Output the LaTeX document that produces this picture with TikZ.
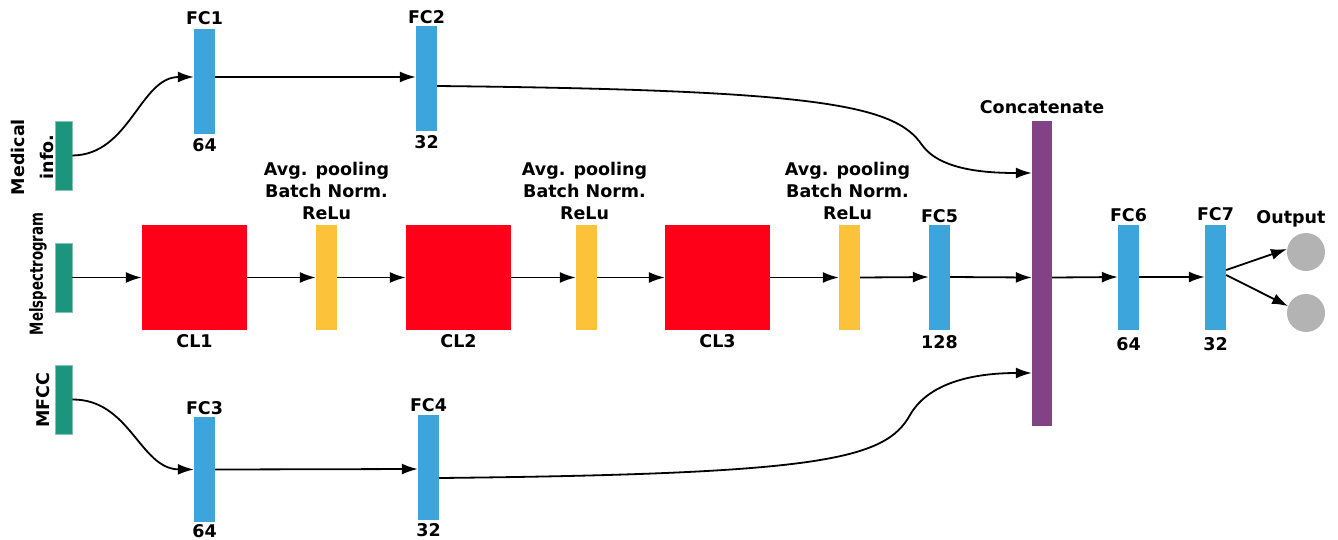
\documentclass[tikz,border=0pt]{standalone}
\usepackage{fontspec}
\setmainfont{DejaVu Sans}
\usetikzlibrary{arrows.meta,calc}
\definecolor{cgreen}{HTML}{1B957B}
\definecolor{cblue}{HTML}{3CA5DC}
\definecolor{cred}{HTML}{FF0019}
\definecolor{cyellow}{HTML}{FBC23A}
\definecolor{cpurple}{HTML}{834286}
\definecolor{cgray}{HTML}{B3B3B3}
\begin{document}
\begin{tikzpicture}[x=1pt,y=-1pt,
 bar/.style={inner sep=0pt, minimum width=21pt, minimum height=105pt, draw=none},
 fcbar/.style={bar, fill=cblue},
 ybar/.style={bar, fill=cyellow},
 clbox/.style={inner sep=0pt, minimum width=105pt, minimum height=105pt, fill=cred},
 inbox/.style={inner sep=0pt, minimum width=17pt, minimum height=69pt, fill=cgreen, draw=cgreen!55!white, line width=0.6pt},
 outc/.style={circle, inner sep=0pt, minimum size=38pt, fill=cgray},
 txt/.style={font=\fontsize{17.5}{22}\selectfont\bfseries, inner sep=0pt},
 conn/.style={line width=1.8pt, -{Latex[length=16pt,width=11pt]}},
]
\useasboundingbox (0,0) rectangle (1338,539);

% inputs
\node[inbox] (med) at (63.5,155.5) {};
\node[inbox] (mel) at (63.5,277.5) {};
\node[inbox] (mfcc) at (63.5,399.5) {};
\node[txt, rotate=90, align=center, font=\fontsize{17.5}{29}\selectfont\bfseries] (medl) at (32,157) {Medical\\info.};
\node[inner sep=0pt, rotate=90, font=\fontsize{18}{22}\selectfont\bfseries] (mell) at (38,274) {\scalebox{0.74}[1]{Melspectrogram}};
\node[txt, rotate=90] (mfccl) at (43,400) {MFCC};

% top branch
\node[fcbar] (fc1) at (204.5,81.5) {};
\node[fcbar] (fc2) at (426.5,78.5) {};
\node[txt, anchor=base] (fc1t) at ([yshift=4pt]fc1.north) {FC1};
\node[txt, anchor=north] (fc1b) at ([yshift=-4pt]fc1.south) {64};
\node[txt, anchor=base] (fc2t) at ([yshift=2pt]fc2.north) {FC2};
\node[txt, anchor=north] (fc2b) at ([yshift=-4pt]fc2.south) {32};

% bottom branch
\node[fcbar] (fc3) at (204.5,469.5) {};
\node[fcbar] (fc4) at (428.5,467.5) {};
\node[txt, anchor=base] (fc3t) at ([yshift=2pt]fc3.north) {FC3};
\node[txt, anchor=north] (fc3b) at ([yshift=-2pt]fc3.south) {64};
\node[txt, anchor=base] (fc4t) at ([yshift=3pt]fc4.north) {FC4};
\node[txt, anchor=north] (fc4b) at ([yshift=-3pt]fc4.south) {32};

% middle row
\node[clbox] (cl1) at (194.5,277.5) {};
\node[ybar] (y1) at (326.5,277.5) {};
\node[clbox] (cl2) at (458.5,277.5) {};
\node[ybar] (y2) at (586.5,277.5) {};
\node[clbox] (cl3) at (717.5,277.5) {};
\node[ybar] (y3) at (849.5,277.5) {};
\node[fcbar] (fc5) at (939.5,277) {};
\node[inner sep=0pt, minimum width=20pt, minimum height=305pt, fill=cpurple] (cat) at (1042,273.5) {};
\node[fcbar] (fc6) at (1128.5,277) {};
\node[fcbar] (fc7) at (1215.5,277) {};
\node[outc] (o1) at (1306,252) {};
\node[outc] (o2) at (1306,313) {};

\node[txt, anchor=north] (cl1l) at ([yshift=-4pt]cl1.south) {CL1};
\node[txt, anchor=north] (cl2l) at ([yshift=-4pt]cl2.south) {CL2};
\node[txt, anchor=north] (cl3l) at ([yshift=-4pt]cl3.south) {CL3};
\node[txt, anchor=south, align=center] (y1l) at ([yshift=5pt]y1.north) {Avg. pooling\\Batch Norm.\\ReLu};
\node[txt, anchor=south, align=center] (y2l) at ([xshift=-2pt,yshift=5pt]y2.north) {Avg. pooling\\Batch Norm.\\ReLu};
\node[txt, anchor=south, align=center] (y3l) at ([xshift=-2pt,yshift=5pt]y3.north) {Avg. pooling\\Batch Norm.\\ReLu};
\node[txt, anchor=base] (fc5t) at ([yshift=2pt]fc5.north) {FC5};
\node[txt, anchor=north] (fc5b) at ([yshift=-6pt]fc5.south) {128};
\node[txt, anchor=base] (catl) at ([yshift=7pt]cat.north) {Concatenate};
\node[txt, anchor=base] (fc6t) at ([yshift=3pt]fc6.north) {FC6};
\node[txt, anchor=north] (fc6b) at ([yshift=-8pt]fc6.south) {64};
\node[txt, anchor=base] (fc7t) at ([yshift=4pt]fc7.north) {FC7};
\node[txt, anchor=north] (fc7b) at ([yshift=-8pt]fc7.south) {32};
\node[txt, anchor=base] (outl) at (1291,223) {Output};

% connectors
\draw[conn] (med.east) .. controls (130,155) and (140,77) .. ([yshift=4.5pt]fc1.west);
\draw[conn] ([yshift=4.5pt]fc1.east) -- ([yshift=1.5pt]fc2.west);
\draw[conn] (mfcc.east) .. controls (130,399) and (140,469) .. (fc3.west);
\draw[conn] (fc3.east) -- ([yshift=-1.5pt]fc4.west);
\draw[conn] ([yshift=-7.5pt]fc2.east) .. controls (820,90) and (895,105) .. (922,145)
  .. controls (940,170) and (985,173) .. ([yshift=100.5pt]cat.west);
\draw[conn] ([yshift=-10.5pt]fc4.east) .. controls (820,474) and (885,460) .. (910,415)
  .. controls (930,380) and (980,373) .. ([yshift=-99.5pt]cat.west);
\draw[conn] (mel.east) -- (cl1.west);
\draw[conn] (cl1.east) -- (y1.west);
\draw[conn] (y1.east) -- (cl2.west);
\draw[conn] (cl2.east) -- (y2.west);
\draw[conn] (y2.east) -- (cl3.west);
\draw[conn] (cl3.east) -- (y3.west);
\draw[conn] (y3.east) -- (fc5.west);
\draw[conn] (fc5.east) -- ([yshift=-4pt]cat.west);
\draw[conn] ([yshift=-4pt]cat.east) -- (fc6.west);
\draw[conn] (fc6.east) -- (fc7.west);
\draw[conn] ([yshift=7pt]fc7.east) -- (o1.171);
\draw[conn] ([yshift=2pt]fc7.east) -- (o2.159);
\end{tikzpicture}
\end{document}
